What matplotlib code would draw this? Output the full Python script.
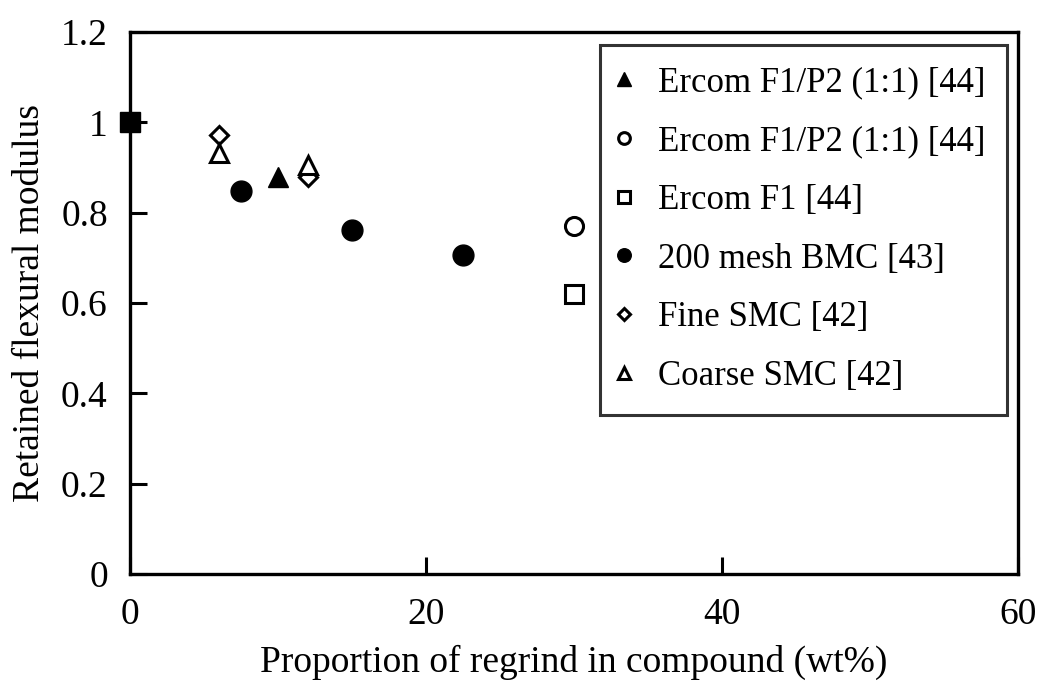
import matplotlib

matplotlib.use("Agg")
import matplotlib.pyplot as plt  # noqa: E402

plt.rcParams["font.family"] = ["Liberation Serif", "DejaVu Serif"]

# regrind content (wt%) and retained flexural modulus per data set
ercom_p2_filled_x = [10]
ercom_p2_filled_y = [0.88]
ercom_p2_open_x = [30]
ercom_p2_open_y = [0.77]
ercom_f1_x = [30]
ercom_f1_y = [0.62]
bmc_x = [7.5, 15, 22.5]
bmc_y = [0.847, 0.762, 0.706]
fine_smc_x = [6, 12]
fine_smc_y = [0.972, 0.879]
coarse_smc_x = [6, 12]
coarse_smc_y = [0.932, 0.905]
# virgin material baseline
base_x = [0]
base_y = [1.0]

x_ticks = [0, 20, 40, 60]
y_ticks = [0, 0.2, 0.4, 0.6, 0.8, 1.0, 1.2]
y_tick_labels = ["0", "0.2", "0.4", "0.6", "0.8", "1", "1.2"]

fig = plt.figure(figsize=(10.42, 6.88), dpi=100)
ax = fig.add_axes([0.1248, 0.1657, 0.8522, 0.7878])

mew = 2.2
ax.plot(ercom_p2_filled_x, ercom_p2_filled_y, ls="none", marker="^", ms=15,
        color="black", label="Ercom F1/P2 (1:1) [44]")
ax.plot(ercom_p2_open_x, ercom_p2_open_y, ls="none", marker="o", ms=13,
        mfc="white", mec="black", mew=mew, label="Ercom F1/P2 (1:1) [44]")
ax.plot(ercom_f1_x, ercom_f1_y, ls="none", marker="s", ms=13,
        mfc="white", mec="black", mew=mew, label="Ercom F1 [44]")
ax.plot(bmc_x, bmc_y, ls="none", marker="o", ms=15,
        color="black", label="200 mesh BMC [43]")
ax.plot(fine_smc_x, fine_smc_y, ls="none", marker="D", ms=9,
        mfc="white", mec="black", mew=mew, label="Fine SMC [42]")
ax.plot(coarse_smc_x, coarse_smc_y, ls="none", marker="^", ms=13,
        mfc="white", mec="black", mew=mew, label="Coarse SMC [42]")
ax.plot(base_x, base_y, ls="none", marker="s", ms=15, color="black",
        clip_on=False, zorder=5)

ax.set_xlim(0, 60)
ax.set_ylim(0, 1.2)
ax.set_xticks(x_ticks)
ax.set_xticklabels([str(t) for t in x_ticks])
ax.set_yticks(y_ticks)
ax.set_yticklabels(y_tick_labels)
ax.tick_params(direction="in", length=12, width=2.2, labelsize=27)
ax.tick_params(axis="x", pad=17)
ax.tick_params(axis="y", pad=16)
for s in ax.spines.values():
    s.set_linewidth(2.4)

ax.set_xlabel("Proportion of regrind in compound (wt%)", fontsize=27, labelpad=9)
ax.set_ylabel("Retained flexural modulus", fontsize=27, labelpad=10)

leg = ax.legend(loc="upper right", bbox_to_anchor=(0.988, 0.976), fontsize=25,
                markerscale=0.65, handlelength=0.1, handletextpad=0.95,
                labelspacing=0.74, borderpad=0.62, frameon=True, fancybox=False,
                edgecolor="black", borderaxespad=0)
leg.get_frame().set_linewidth(2.2)

fig.savefig("out.png", dpi=100)
